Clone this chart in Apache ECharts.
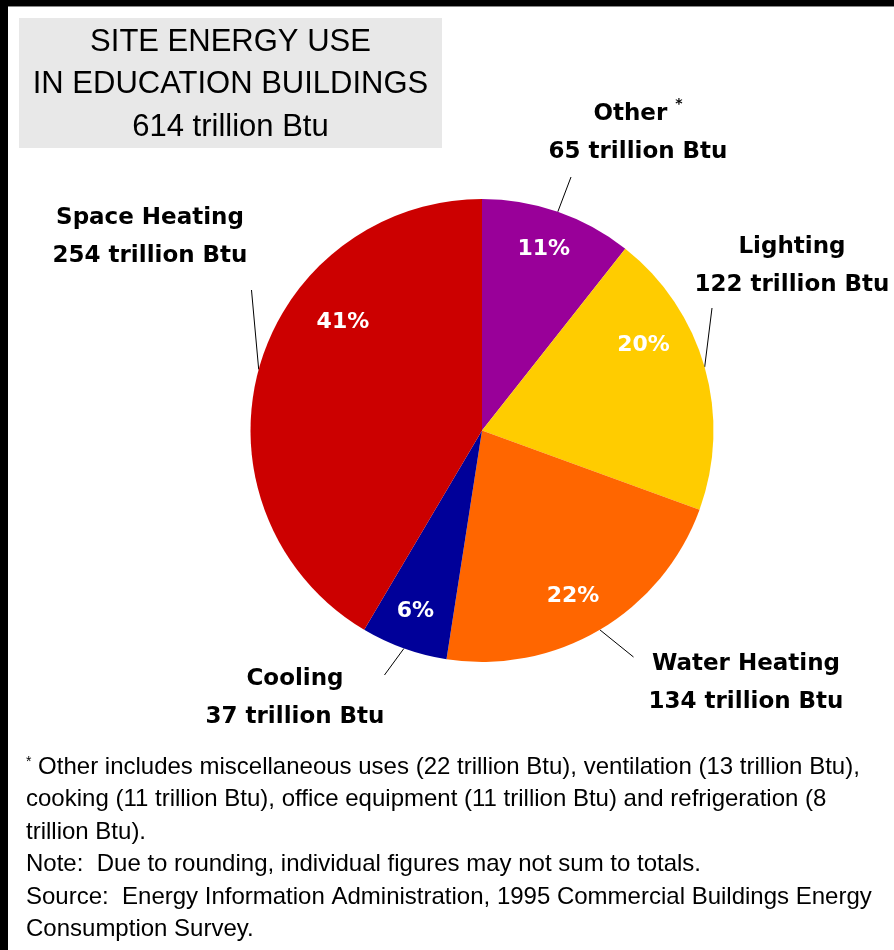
<!DOCTYPE html>
<html>
<head>
<meta charset="utf-8">
<title>Site Energy Use in Education Buildings</title>
<script src="https://cdn.jsdelivr.net/npm/echarts@6/dist/echarts.min.js"></script>
<style>
  html, body { margin: 0; padding: 0; background: #fff; }
  #chart { width: 894px; height: 950px; }
</style>
</head>
<body>
<div id="chart"></div>
<script>
// End uses, clockwise from 12 o'clock (trillion Btu)
const categories = ['Other', 'Lighting', 'Water Heating', 'Cooling', 'Space Heating'];
const energyUse = [65, 122, 134, 37, 254];
const totalUse = 614;
const footnoteFlag = [true, false, false, false, false];
const sliceColors = ['#990099', '#ffcc00', '#ff6600', '#000099', '#cc0000'];

const titleLines = ['SITE ENERGY USE', 'IN EDUCATION BUILDINGS', totalUse + ' trillion Btu'];

const footnoteLines = [
  'Other includes miscellaneous uses (22 trillion Btu), ventilation (13 trillion Btu),',
  'cooking (11 trillion Btu), office equipment (11 trillion Btu) and refrigeration (8',
  'trillion Btu).',
  'Note:  Due to rounding, individual figures may not sum to totals.',
  'Source:  Energy Information Administration, 1995 Commercial Buildings Energy',
  'Consumption Survey.'
];

// Callout placement: centre of each two-line label, plus padding that steers
// which side of the label box the leader line reaches.
const labelBoxes = [
  { cx: 638, cy: 133, pad: [0, 0, 6, 134] },
  { cx: 792, cy: 266, pad: [0, 0, 4, 160] },
  { cx: 746, cy: 683, pad: [54, 0, 2, 15] },
  { cx: 295, cy: 698, pad: [48, 0, 2, 0] },
  { cx: 150, cy: 237, pad: [0, 4, 106, 0] }
];

// Nudges for the percentage labels inside the slices
const percentNudge = [[0, -3], [-20, -34], [-5, 3], [-3, 3], [43, -58]];

const labelFont = 'DejaVu Sans, Verdana, sans-serif';
const textFont = 'Liberation Sans, Arial, sans-serif';

const chart = echarts.init(document.getElementById('chart'), null, { renderer: 'canvas' });

const sliceData = categories.map((name, i) => ({
  name: name,
  value: energyUse[i],
  itemStyle: { color: sliceColors[i] },
  label: { padding: labelBoxes[i].pad }
}));

const percentData = categories.map((name, i) => ({ name: name, value: energyUse[i] }));

const option = {
  backgroundColor: '#ffffff',
  animation: false,
  graphic: [
    // frame edges
    { type: 'rect', shape: { x: 0, y: 0, width: 894, height: 6 }, style: { fill: '#000' }, z: 10 },
    { type: 'rect', shape: { x: 0, y: 6, width: 894, height: 1 }, style: { fill: '#888' }, z: 10 },
    { type: 'rect', shape: { x: 0, y: 0, width: 8, height: 950 }, style: { fill: '#000' }, z: 10 },
    // title panel
    { type: 'rect', shape: { x: 19, y: 18, width: 423, height: 130 }, style: { fill: '#e8e8e8' }, z: 1 },
    {
      type: 'text', x: 230.5, y: 84.5, z: 2,
      style: {
        text: titleLines.join('\n'),
        fontFamily: textFont, fontSize: 31, fontWeight: 'normal',
        lineHeight: 42.5, fill: '#000',
        align: 'center', verticalAlign: 'middle'
      }
    },
    // footnotes
    {
      type: 'text', x: 26, y: 751, z: 2,
      style: {
        text: '{sup|*} ' + footnoteLines.join('\n'),
        fontFamily: textFont, fontSize: 24, lineHeight: 32.5, fill: '#000',
        align: 'left', verticalAlign: 'top',
        rich: {
          sup: { fontFamily: textFont, fontSize: 14, lineHeight: 32.5, verticalAlign: 'top', fill: '#000', padding: [4, 0, 0, 0] }
        }
      }
    }
  ],
  series: [
    {
      name: 'Site energy use',
      type: 'pie',
      center: [482, 430.5],
      radius: [0, 231.5],
      startAngle: 90,
      clockwise: true,
      avoidLabelOverlap: false,
      silent: true,
      itemStyle: { borderWidth: 0 },
      label: {
        show: true,
        position: 'outside',
        fontFamily: labelFont,
        fontSize: 23,
        fontWeight: 'bold',
        color: '#000',
        lineHeight: 38,
        align: 'center',
        backgroundColor: 'rgba(0,0,0,0)',
        formatter: function (p) {
          const head = footnoteFlag[p.dataIndex] ? p.name + ' {sup|*}' : p.name;
          return head + '\n' + p.value + ' trillion Btu';
        },
        rich: {
          sup: {
            fontFamily: labelFont, fontSize: 14, fontWeight: 'bold',
            color: '#000', lineHeight: 38, verticalAlign: 'top', padding: [2, 0, 0, 0]
          }
        }
      },
      labelLine: {
        show: true,
        length: 12,
        length2: 0,
        smooth: false,
        lineStyle: { color: '#000', width: 1 }
      },
      labelLayout: function (params) {
        const b = labelBoxes[params.dataIndex];
        const p = b.pad;
        return {
          x: b.cx + (p[1] - p[3]) / 2,
          y: b.cy + (p[2] - p[0]) / 2,
          align: 'center',
          verticalAlign: 'middle'
        };
      },
      emphasis: { disabled: true },
      data: sliceData
    },
    {
      name: 'Share',
      type: 'pie',
      center: [482, 430.5],
      radius: [140, 231.5],
      startAngle: 90,
      clockwise: true,
      silent: true,
      percentPrecision: 0,
      itemStyle: { color: 'rgba(0,0,0,0)', borderWidth: 0 },
      label: {
        show: true,
        position: 'inside',
        formatter: '{d}%',
        fontFamily: labelFont,
        fontSize: 22,
        fontWeight: 'bold',
        color: '#fff'
      },
      labelLine: { show: false },
      labelLayout: function (params) {
        const n = percentNudge[params.dataIndex];
        return { dx: n[0], dy: n[1] };
      },
      emphasis: { disabled: true },
      data: percentData
    }
  ]
};

chart.setOption(option);
</script>
</body>
</html>
